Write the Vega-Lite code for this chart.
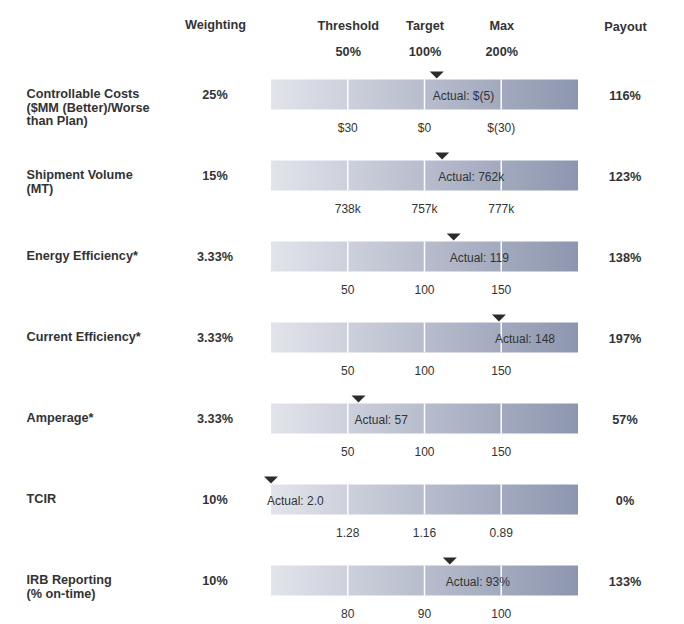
{
  "$schema": "https://vega.github.io/schema/vega-lite/v6.json",
  "padding": {"left": 26, "top": 18, "right": 0, "bottom": 0},
  "spacing": 11,
  "bounds": "flush",
  "config": {
    "font": "Liberation Sans",
    "view": {"stroke": null},
    "axis": {"ticks": false, "domain": false, "grid": false, "title": null, "labelColor": "#333333"}
  },
  "datasets": {
    "metrics": [
      {"metric": "Controllable Costs ($MM (Better)/Worse than Plan)", "weighting": "25%", "actual": "$(5)", "payout": 116},
      {"metric": "Shipment Volume (MT)", "weighting": "15%", "actual": "762k", "payout": 123},
      {"metric": "Energy Efficiency*", "weighting": "3.33%", "actual": "119", "payout": 138},
      {"metric": "Current Efficiency*", "weighting": "3.33%", "actual": "148", "payout": 197},
      {"metric": "Amperage*", "weighting": "3.33%", "actual": "57", "payout": 57},
      {"metric": "TCIR", "weighting": "10%", "actual": "2.0", "payout": 0},
      {"metric": "IRB Reporting (% on-time)", "weighting": "10%", "actual": "93%", "payout": 133}
    ],
    "levels": [
      {"metric": "Controllable Costs ($MM (Better)/Worse than Plan)", "level": 50, "label": "$30"},
      {"metric": "Controllable Costs ($MM (Better)/Worse than Plan)", "level": 100, "label": "$0"},
      {"metric": "Controllable Costs ($MM (Better)/Worse than Plan)", "level": 200, "label": "$(30)"},
      {"metric": "Shipment Volume (MT)", "level": 50, "label": "738k"},
      {"metric": "Shipment Volume (MT)", "level": 100, "label": "757k"},
      {"metric": "Shipment Volume (MT)", "level": 200, "label": "777k"},
      {"metric": "Energy Efficiency*", "level": 50, "label": "50"},
      {"metric": "Energy Efficiency*", "level": 100, "label": "100"},
      {"metric": "Energy Efficiency*", "level": 200, "label": "150"},
      {"metric": "Current Efficiency*", "level": 50, "label": "50"},
      {"metric": "Current Efficiency*", "level": 100, "label": "100"},
      {"metric": "Current Efficiency*", "level": 200, "label": "150"},
      {"metric": "Amperage*", "level": 50, "label": "50"},
      {"metric": "Amperage*", "level": 100, "label": "100"},
      {"metric": "Amperage*", "level": 200, "label": "150"},
      {"metric": "TCIR", "level": 50, "label": "1.28"},
      {"metric": "TCIR", "level": 100, "label": "1.16"},
      {"metric": "TCIR", "level": 200, "label": "0.89"},
      {"metric": "IRB Reporting (% on-time)", "level": 50, "label": "80"},
      {"metric": "IRB Reporting (% on-time)", "level": 100, "label": "90"},
      {"metric": "IRB Reporting (% on-time)", "level": 200, "label": "100"}
    ]
  },
  "hconcat": [
    {
      "width": 90,
      "height": 567,
      "data": {"name": "metrics"},
      "mark": {"type": "text", "fontWeight": "bold", "fontSize": 12.7, "color": "#333333", "baseline": "middle"},
      "encoding": {
        "x": {"datum": "Weighting", "type": "nominal",
          "axis": {"orient": "top", "labelAngle": 0, "labelPadding": 23, "labelFontWeight": "bold", "labelFontSize": 12.7}},
        "y": {"field": "metric", "type": "nominal",
          "scale": {"domain": ["Controllable Costs ($MM (Better)/Worse than Plan)", "Shipment Volume (MT)", "Energy Efficiency*", "Current Efficiency*", "Amperage*", "TCIR", "IRB Reporting (% on-time)"]},
          "axis": {"orient": "left", "labelAlign": "left", "labelBaseline": "top", "labelPadding": 144, "labelOffset": -7, "labelLineHeight": 13.5, "labelFontWeight": "bold", "labelFontSize": 12.7, "labelLimit": 0,
            "labelExpr": "split(replace(replace(datum.label, ' (', '|('), 'Worse ', 'Worse|'), '|')"}},
        "text": {"field": "weighting"}
      }
    },
    {
      "width": 307,
      "height": 567,
      "encoding": {
        "y": {"field": "metric", "type": "nominal", "axis": null,
          "scale": {"domain": ["Controllable Costs ($MM (Better)/Worse than Plan)", "Shipment Volume (MT)", "Energy Efficiency*", "Current Efficiency*", "Amperage*", "TCIR", "IRB Reporting (% on-time)"], "paddingInner": 0, "paddingOuter": 0}}
      },
      "layer": [
        {
          "data": {"name": "metrics"},
          "mark": {"type": "bar", "height": 30,
            "color": {"gradient": "linear", "x1": 0, "y1": 0, "x2": 1, "y2": 0,
              "stops": [{"offset": 0, "color": "#e2e4eb"}, {"offset": 1, "color": "#8d96af"}]}},
          "encoding": {
            "x": {"datum": 0, "type": "quantitative",
              "scale": {"domain": [0, 50, 100, 200, 300], "range": [0, 76.75, 153.5, 230.25, 307], "zero": false, "nice": false},
              "axis": {"orient": "top", "values": [50, 100, 200], "labelPadding": 22, "labelFontWeight": "bold", "labelFontSize": 12.7, "labelLineHeight": 26, "labelAngle": 0,
                "labelExpr": "datum.value == 50 ? ['Threshold', '50%'] : datum.value == 100 ? ['Target', '100%'] : ['Max', '200%']"}},
            "x2": {"datum": 300}
          }
        },
        {
          "data": {"name": "levels"},
          "mark": {"type": "tick", "color": "#ffffff", "thickness": 1.5, "size": 30, "opacity": 1},
          "encoding": {"x": {"field": "level", "type": "quantitative"}}
        },
        {
          "data": {"name": "levels"},
          "mark": {"type": "text", "dy": 33, "fontSize": 12, "color": "#333333", "baseline": "middle"},
          "encoding": {"x": {"field": "level", "type": "quantitative"}, "text": {"field": "label"}}
        },
        {
          "data": {"name": "metrics"},
          "mark": {"type": "point", "shape": "M-1,-0.5L1,-0.5L0,0.5Z", "size": 196, "filled": true, "color": "#2b2b2b", "opacity": 1, "yOffset": -19.5},
          "encoding": {"x": {"field": "payout", "type": "quantitative"}}
        },
        {
          "data": {"name": "metrics"},
          "transform": [{"calculate": "'Actual: ' + datum.actual", "as": "actualText"}],
          "mark": {"type": "text", "align": "left", "baseline": "middle", "dx": -4, "dy": 1, "fontSize": 12, "color": "#333333"},
          "encoding": {"x": {"field": "payout", "type": "quantitative"}, "text": {"field": "actualText"}}
        }
      ]
    },
    {
      "width": 72,
      "height": 567,
      "data": {"name": "metrics"},
      "transform": [{"calculate": "datum.payout + '%'", "as": "payoutText"}],
      "mark": {"type": "text", "fontWeight": "bold", "fontSize": 12.7, "color": "#333333", "baseline": "middle", "dy": 1.5},
      "encoding": {
        "x": {"datum": "Payout", "type": "nominal",
          "axis": {"orient": "top", "labelAngle": 0, "labelPadding": 21, "labelFontWeight": "bold", "labelFontSize": 12.7}},
        "y": {"field": "metric", "type": "nominal", "axis": null,
          "scale": {"domain": ["Controllable Costs ($MM (Better)/Worse than Plan)", "Shipment Volume (MT)", "Energy Efficiency*", "Current Efficiency*", "Amperage*", "TCIR", "IRB Reporting (% on-time)"]}},
        "text": {"field": "payoutText"}
      }
    }
  ]
}
